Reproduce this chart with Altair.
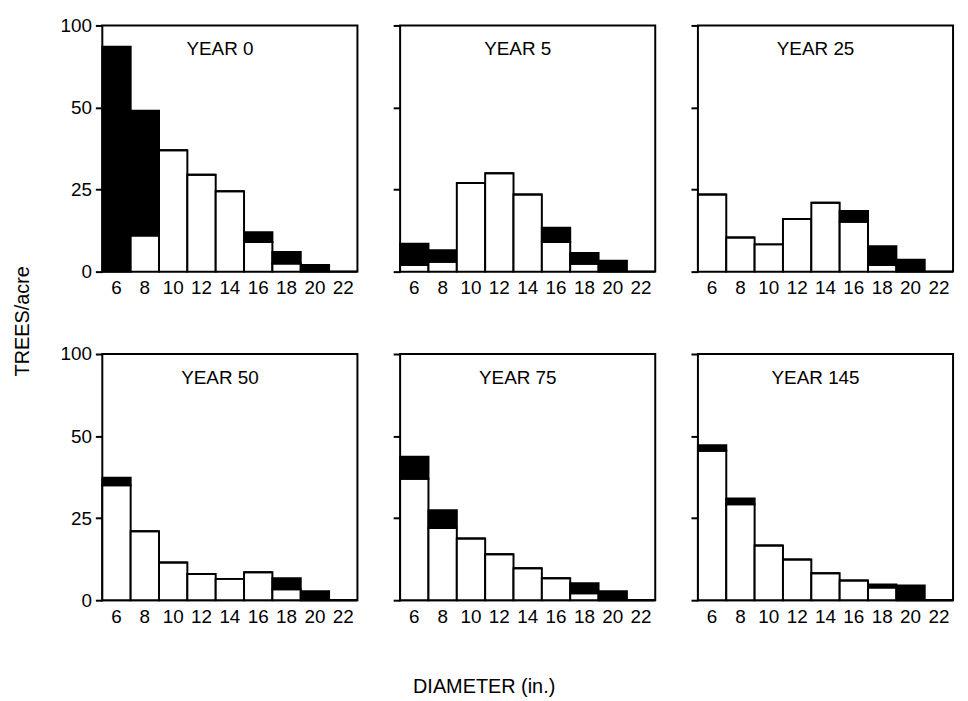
import altair as alt
import pandas as pd

# Diameter classes (inches)
diam = [6, 8, 10, 12, 14, 16, 18, 20, 22]
years = ["YEAR 0", "YEAR 5", "YEAR 25", "YEAR 50", "YEAR 75", "YEAR 145"]

# white (lower) part of each bar, trees/acre
white_y0 = [0, 11, 37, 29.5, 24.5, 9, 2.5, 0, 0]
white_y5 = [2, 3, 27, 30, 23.5, 9, 2.4, 0, 0]
white_y25 = [23.5, 10.4, 8.3, 16, 21, 15.2, 2, 0, 0]
white_y50 = [35, 21, 11.5, 8, 6.5, 8.5, 3.3, 0, 0]
white_y75 = [37, 22, 18.8, 14, 9.7, 6.7, 2.1, 0, 0]
white_y145 = [45.5, 29.2, 16.7, 12.4, 8.2, 6, 3.9, 0, 0]

# black (upper) part of each bar, trees/acre
black_y0 = [87, 38, 0, 0, 0, 3, 3.5, 2, 0]
black_y5 = [6.5, 3.5, 0, 0, 0, 4.4, 3.3, 3.3, 0]
black_y25 = [0, 0, 0, 0, 0, 3.3, 5.7, 3.6, 0]
black_y50 = [2.3, 0, 0, 0, 0, 0, 3.4, 2.7, 0]
black_y75 = [6.7, 5.4, 0, 0, 0, 0, 3.1, 2.7, 0]
black_y145 = [1.7, 1.8, 0, 0, 0, 0, 0.9, 4.5, 0]

whites = [white_y0, white_y5, white_y25, white_y50, white_y75, white_y145]
blacks = [black_y0, black_y5, black_y25, black_y50, black_y75, black_y145]

y_ticks = [0, 25, 50, 100]

W = 257
H = 248
FONT = "Liberation Sans"


def panel(i, show_labels):
    rows = []
    for d, w, b in zip(diam, whites[i], blacks[i]):
        rows.append({"diam": d, "value": w, "part": "white", "ord": 0})
        rows.append({"diam": d, "value": b, "part": "black", "ord": 1})
    df = pd.DataFrame(rows)

    bars = alt.Chart(df).mark_bar(stroke="black", strokeWidth=2).encode(
        x=alt.X(
            "diam:O",
            scale=alt.Scale(domain=diam, paddingInner=0, paddingOuter=0),
            axis=alt.Axis(title=None, labelAngle=0, ticks=False, domain=False,
                          labelFontSize=19, labelPadding=7, labelFont=FONT,
                          labelColor="black"),
        ),
        y=alt.Y(
            "value:Q",
            stack="zero",
            scale=alt.Scale(domain=y_ticks, range=[H, H * 2 / 3, H / 3, 0], nice=False),
            axis=alt.Axis(values=y_ticks, labels=show_labels, title=None, grid=False,
                          domain=False, tickSize=7, tickWidth=2, tickColor="black",
                          labelFontSize=19, labelPadding=4, labelFont=FONT,
                          labelColor="black"),
        ),
        color=alt.Color("part:N", scale=alt.Scale(domain=["white", "black"],
                                                  range=["white", "black"]), legend=None),
        order=alt.Order("ord:Q"),
    )

    label = alt.Chart(pd.DataFrame({"label": [years[i]]})).mark_text(
        font=FONT, fontSize=19, color="black", align="center", baseline="middle"
    ).encode(
        text="label:N",
        x=alt.value(W / 2 - 10),
        y=alt.value(24),
    )
    return alt.layer(bars, label).properties(width=W, height=H)


row1 = alt.hconcat(panel(0, True), panel(1, False), panel(2, False), spacing=32)
row2 = alt.hconcat(panel(3, True), panel(4, False), panel(5, False), spacing=32)

grid = alt.vconcat(row1, row2, spacing=46).properties(
    title=alt.TitleParams("TREES/acre", orient="left", anchor="middle", fontSize=20,
                          font=FONT, fontWeight="normal", color="black", offset=26)
)

chart = alt.vconcat(grid).properties(
    title=alt.TitleParams("DIAMETER (in.)", orient="bottom", anchor="middle", fontSize=20,
                          font=FONT, fontWeight="normal", color="black", offset=50)
).configure_view(
    stroke="black", strokeWidth=2
)

chart.save("out.html", embed_options={"renderer": "svg", "actions": False})
